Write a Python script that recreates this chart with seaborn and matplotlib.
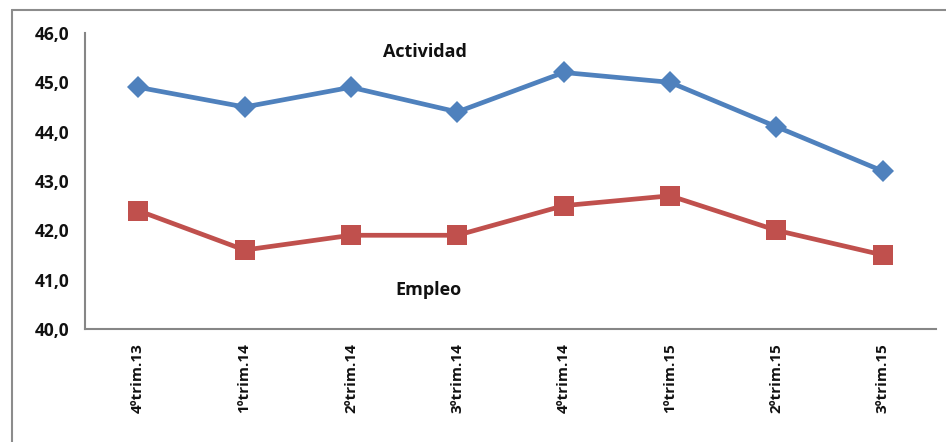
import matplotlib
matplotlib.use("Agg")
import matplotlib.pyplot as plt
from matplotlib.lines import Line2D
import seaborn as sns
import pandas as pd

categories = ["4ºtrim.13", "1ºtrim.14", "2ºtrim.14", "3ºtrim.14",
              "4ºtrim.14", "1ºtrim.15", "2ºtrim.15", "3ºtrim.15"]
actividad = [44.9, 44.5, 44.9, 44.4, 45.2, 45.0, 44.1, 43.2]
empleo = [42.4, 41.6, 41.9, 41.9, 42.5, 42.7, 42.0, 41.5]
yticks = [40, 41, 42, 43, 44, 45, 46]

sns.set_style("white")
plt.rcParams["font.family"] = ["Open Sans", "DejaVu Sans"]
plt.rcParams["font.weight"] = "bold"

df = pd.DataFrame({
    "x": list(range(len(categories))) * 2,
    "valor": actividad + empleo,
    "serie": ["Actividad"] * len(categories) + ["Empleo"] * len(categories),
})

fig = plt.figure(figsize=(9.46, 4.42), dpi=100)
ax = fig.add_axes([85 / 946, 1 - 329 / 442, (936 - 85) / 946, (329 - 33) / 442])

sns.lineplot(data=df, x="x", y="valor", hue="serie", style="serie",
             palette={"Actividad": "#4F81BD", "Empleo": "#C0504D"},
             markers={"Actividad": "D", "Empleo": "s"}, dashes=False,
             linewidth=3.4, markeredgewidth=0, legend=False, ax=ax)
for line, ms in zip(ax.lines, [11, 15]):
    line.set_markersize(ms)

ax.set_xlim(-0.5, len(categories) - 0.5)
ax.set_ylim(40, 46)
ax.set_yticks(yticks)
ax.set_yticklabels([f"{v:.1f}".replace(".", ",") for v in yticks],
                   fontsize=12.5, fontweight="bold", color="#111111")
ax.set_xticks(range(len(categories)))
ax.set_xticklabels(categories, rotation=90, fontsize=11, fontweight="bold", color="#111111")
ax.set_xticks([i - 0.5 for i in range(len(categories) + 1)], minor=True)
ax.tick_params(axis="x", which="major", length=0, pad=10)
ax.tick_params(axis="x", which="minor", length=5, color="#868686", width=1.5, direction="out")
ax.tick_params(axis="y", length=5, color="#868686", width=1.5, direction="out", pad=6)
ax.set_xlabel("")
ax.set_ylabel("")

for s in ["top", "right"]:
    ax.spines[s].set_visible(False)
for s in ["left", "bottom"]:
    ax.spines[s].set_color("#868686")
    ax.spines[s].set_linewidth(1.5)

ax.text(2.7, 45.62, "Actividad", fontsize=13, fontweight="bold", ha="center", va="center", color="#111111")
ax.text(2.73, 40.8, "Empleo", fontsize=13, fontweight="bold", ha="center", va="center", color="#111111")

# outer chart frame (left and top edges visible)
fig.add_artist(Line2D([12 / 946, 12 / 946], [0, 1 - 10 / 442], transform=fig.transFigure,
                      color="#8c8c8c", linewidth=1.5))
fig.add_artist(Line2D([12 / 946, 1], [1 - 10 / 442, 1 - 10 / 442], transform=fig.transFigure,
                      color="#8c8c8c", linewidth=1.5))

fig.savefig("out.png", dpi=100)
